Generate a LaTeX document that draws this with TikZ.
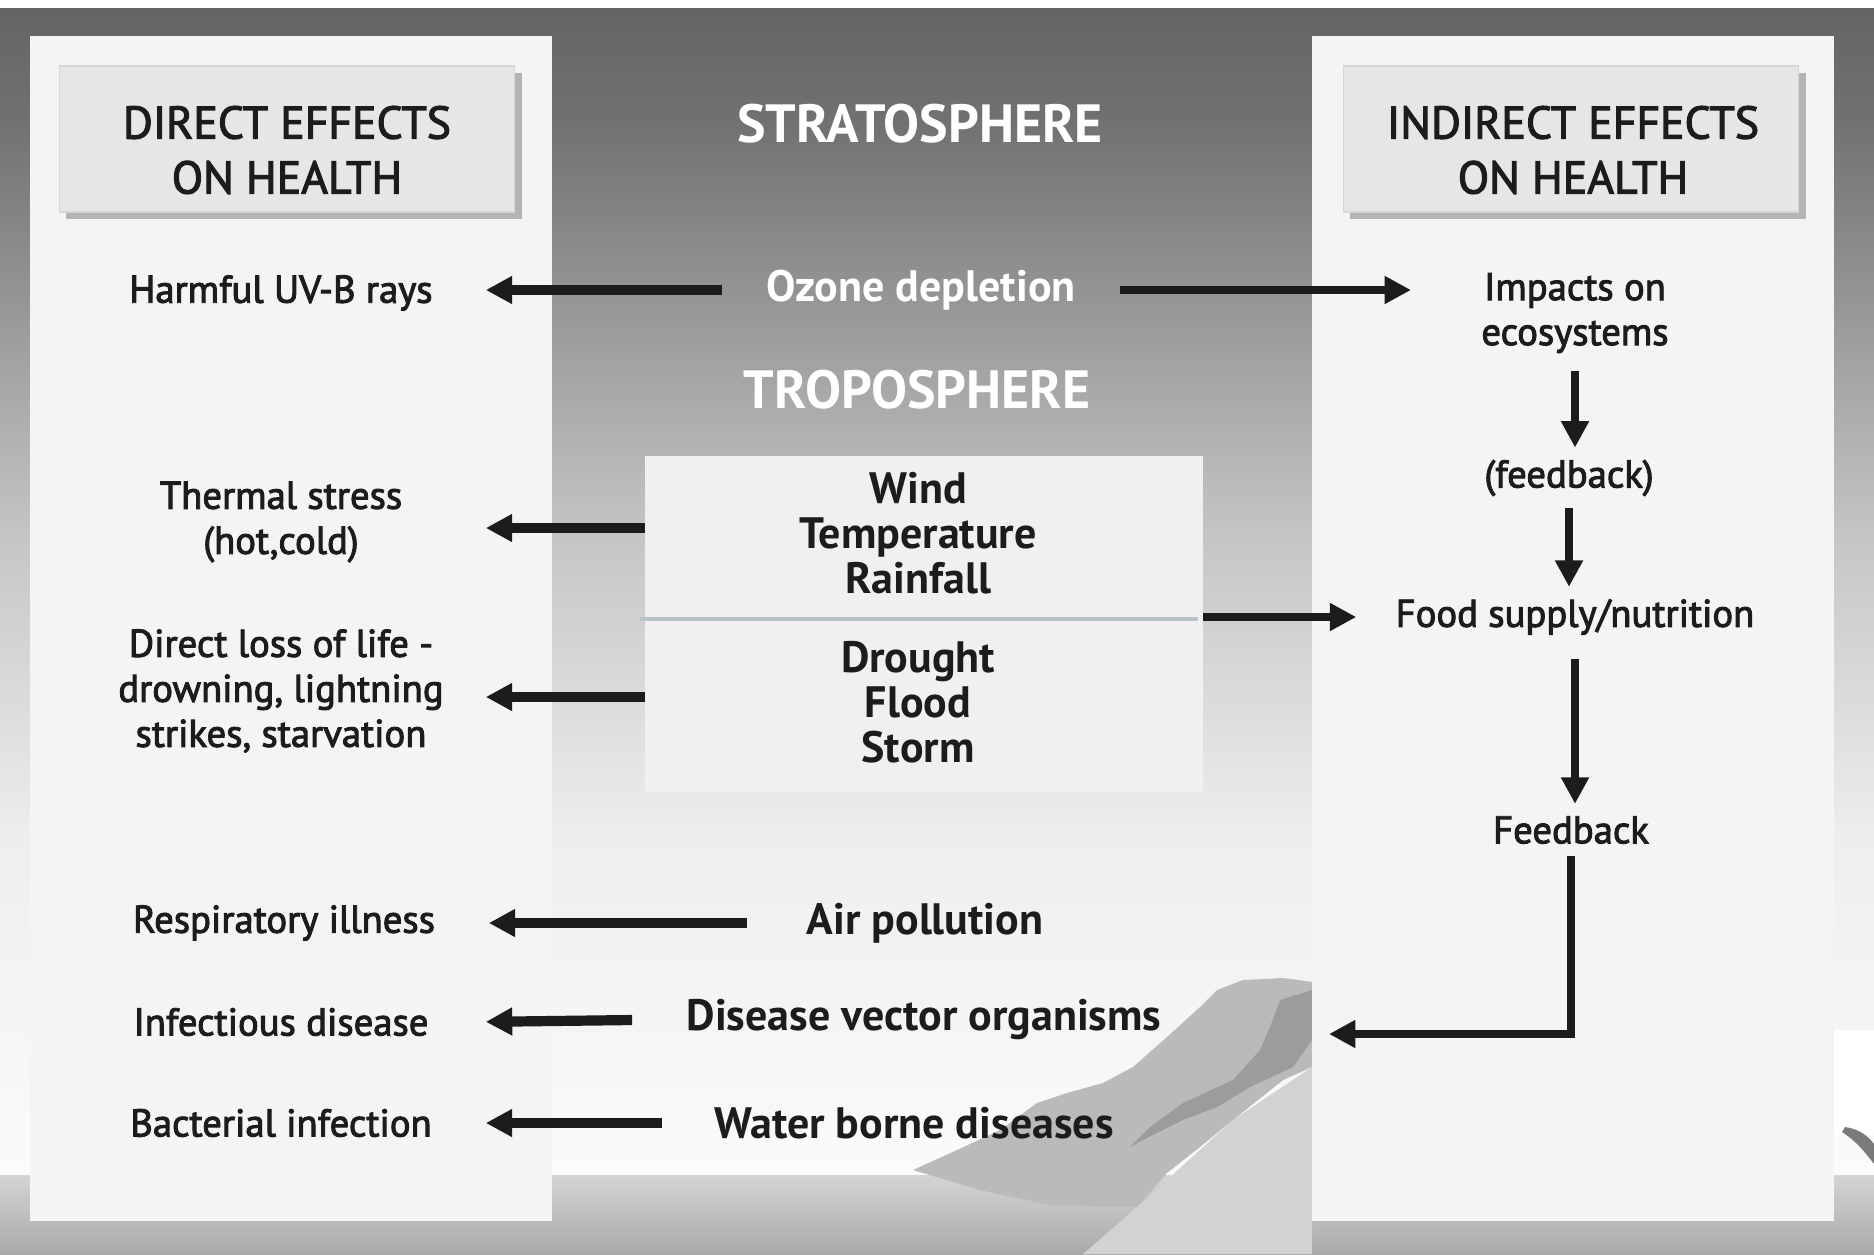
\documentclass[tikz,border=0pt]{standalone}
\usepackage{fontspec}
\setmainfont{PT Sans}
\newfontfamily\labelfont{PT Sans}[FakeBold=2.5]
\usepackage{xcolor}
\usepackage{tikz}
\usetikzlibrary{arrows.meta, positioning, calc, shadows}

\definecolor{inkgray}{HTML}{1C1C1C}
\definecolor{bgtop}{HTML}{646464}
\definecolor{bgdark}{HTML}{717171}
\definecolor{bgmid}{HTML}{C6C6C6}
\definecolor{bglow}{HTML}{EEEEEE}
\definecolor{bgwhite}{HTML}{FBFBFB}
\definecolor{groundtop}{HTML}{D4D4D4}
\definecolor{groundlow}{HTML}{A9A9A9}
\definecolor{panelfill}{HTML}{F4F4F4}
\definecolor{headfill}{HTML}{E6E6E6}
\definecolor{headedge}{HTML}{D6D6D6}
\definecolor{shadowgray}{HTML}{B4B4B4}
\definecolor{boxfill}{HTML}{F0F0F0}
\definecolor{dividercol}{HTML}{B8C4C8}
\definecolor{hillgray}{HTML}{BABABA}
\definecolor{hilldark}{HTML}{9C9C9C}
\definecolor{slopegray}{HTML}{D2D2D2}
\definecolor{birdgray}{HTML}{7A7A7A}

\begin{document}
\begin{tikzpicture}[x=0.01cm, y=-0.01cm, >={Triangle[length=7.5pt, width=7.5pt]},
        lbl/.style={align=center, text=inkgray, font=\labelfont\fontsize{11}{12.8}\selectfont},
        leftlbl/.style={lbl, minimum width=3.8cm},
        midlbl/.style={align=center, text=inkgray, font=\fontsize{12.5}{12.8}\selectfont\bfseries},
        headbox/.style={fill=headfill, draw=headedge, minimum width=4.55cm, minimum height=1.46cm,
            drop shadow={shadow xshift=0.7mm, shadow yshift=-0.7mm, fill=shadowgray, opacity=1}},
        headtext/.style={align=center, text=inkgray, font=\labelfont\fontsize{13}{15.6}\selectfont},
        layer/.style={text=white, font=\fontsize{15.3}{17}\selectfont\bfseries},
        bigarrow/.style={->, line width=2.9pt, draw=inkgray},
        toleft/.style={bigarrow, shorten >=1.4mm},
        arrow/.style={->, line width=2.1pt, draw=inkgray}]
        \useasboundingbox (0,0) rectangle (1874,1254);

        \fill[white] (0,0) rectangle (1874,1254);
        \shade[top color=bgtop, bottom color=bgdark] (0,8) rectangle (1874,120);
        \shade[top color=bgdark, bottom color=bgmid] (0,120) rectangle (1874,540);
        \shade[top color=bgmid, bottom color=bglow] (0,540) rectangle (1874,840);
        \shade[top color=bglow, bottom color=bgwhite] (0,840) rectangle (1874,1175);
        \fill[white] (1834,1030) rectangle (1874,1135);
        \shade[top color=groundtop, bottom color=groundlow] (0,1175) rectangle (1874,1254);

        \fill[slopegray] (1312,1067) -- (1312,1254) -- (1083,1254) -- (1137,1207) -- (1233,1120) -- cycle;
        \fill[hillgray] (913,1170) -- (957,1150) -- (1000,1130) -- (1037,1103) -- (1067,1093) -- (1103,1083)
            -- (1133,1067) -- (1167,1037) -- (1200,1007) -- (1217,990) -- (1243,980) -- (1283,978) -- (1312,982)
            -- (1312,1067) -- (1283,1080) -- (1233,1120) -- (1200,1147) -- (1167,1173) -- (1137,1207)
            -- (1050,1205) -- (980,1190) -- cycle;
        \fill[hilldark] (1280,1000) -- (1312,990) -- (1312,1040) -- (1293,1067) -- (1250,1087) -- (1217,1107)
            -- (1183,1120) -- (1143,1140) -- (1130,1147) -- (1150,1127) -- (1183,1103) -- (1233,1080)
            -- (1260,1050) -- (1270,1027) -- cycle;
        \fill[birdgray] (1845,1127) .. controls (1860,1129) and (1869,1137) .. (1874,1144) -- (1874,1164)
            .. controls (1865,1152) and (1856,1141) .. (1842,1132) -- cycle;

        \fill[panelfill] (30,36) rectangle (552,1221);
        \fill[panelfill] (1312,36) rectangle (1834,1221);

        \node[headbox] (dirbox) at (287,139) {};
        \node[headtext] (dirhead) at (287,150) {DIRECT EFFECTS\\ON HEALTH};
        \node[headbox] (indbox) at (1571,139) {};
        \node[headtext] (indhead) at (1573,150) {INDIRECT EFFECTS\\ON HEALTH};

        \node[layer] (strato) at (920,124) {STRATOSPHERE};
        \node[layer] (tropo) at (917,390) {TROPOSPHERE};

        \node[fill=boxfill, minimum width=5.57cm, minimum height=3.36cm] (climate) at (924,624) {};
        \draw[line width=1.4pt, dividercol] ($(climate.west)+(-5,-5)$) -- ($(climate.east)+(-5,-5)$);
        \node[midlbl] (wind) at (918,533) {Wind\\Temperature\\Rainfall};
        \node[midlbl] (drought) at (918,702) {Drought\\Flood\\Storm};

        \node[leftlbl] (uvb) at (281,293) {Harmful UV-B rays};
        \node[leftlbl] (thermal) at (281,522) {Thermal stress\\(hot,cold)};
        \node[leftlbl] (loss) at (281,691) {Direct loss of life -\\drowning, lightning\\strikes, starvation};
        \node[leftlbl] (resp) at (284,923) {Respiratory illness};
        \node[leftlbl] (infect) at (281,1022) {Infectious disease};
        \node[leftlbl] (bact) at (281,1123) {Bacterial infection};

        \node[midlbl, text=white, minimum width=3.97cm] (ozone) at (921,290) {Ozone depletion};
        \node[midlbl, minimum width=3.54cm] (air) at (925,923) {Air pollution};
        \node[midlbl, minimum width=5.82cm] (vector) at (924,1020) {Disease vector organisms};
        \node[midlbl, minimum width=5.02cm] (water) at (914,1123) {Water borne diseases};

        \node[lbl] (impacts) at (1575,313) {Impacts on\\ecosystems};
        \node[lbl] (fb1) at (1569,478) {(feedback)};
        \node[lbl] (food) at (1575,617) {Food supply/nutrition};
        \node[lbl] (fb2) at (1571,830) {Feedback};
        \coordinate (loopend) at (1329,1034);

        \draw[toleft] (ozone.west) -- (ozone.west -| uvb.east);
        \draw[arrow, shorten >=5.8mm] (ozone.east) -- (ozone.east -| impacts.west);
        \draw[toleft] ($(climate.west |- wind)+(0,-5)$) -- ($(thermal.east |- wind)+(0,-5)$);
        \draw[toleft] ($(climate.west |- drought)+(0,-5)$) -- ($(loss.east |- drought)+(0,-5)$);
        \draw[arrow, shorten >=2.7mm] (climate.east |- food) -- (food.west);
        \draw[toleft] (air.west) -- (air.west -| resp.east);
        \draw[toleft] (vector.west) -- (infect.east);
        \draw[toleft] (water.west) -- (bact.east);

        \draw[arrow, shorten <=0.6mm] (impacts.south) -- (impacts.south |- fb1.north);
        \draw[arrow] (fb1.south) -- (fb1.south |- food.north);
        \draw[arrow, shorten <=1.2mm] (food.south) -- (food.south |- fb2.north);
        \draw[arrow] (fb2.south) |- (loopend);
    \end{tikzpicture}
\end{document}
